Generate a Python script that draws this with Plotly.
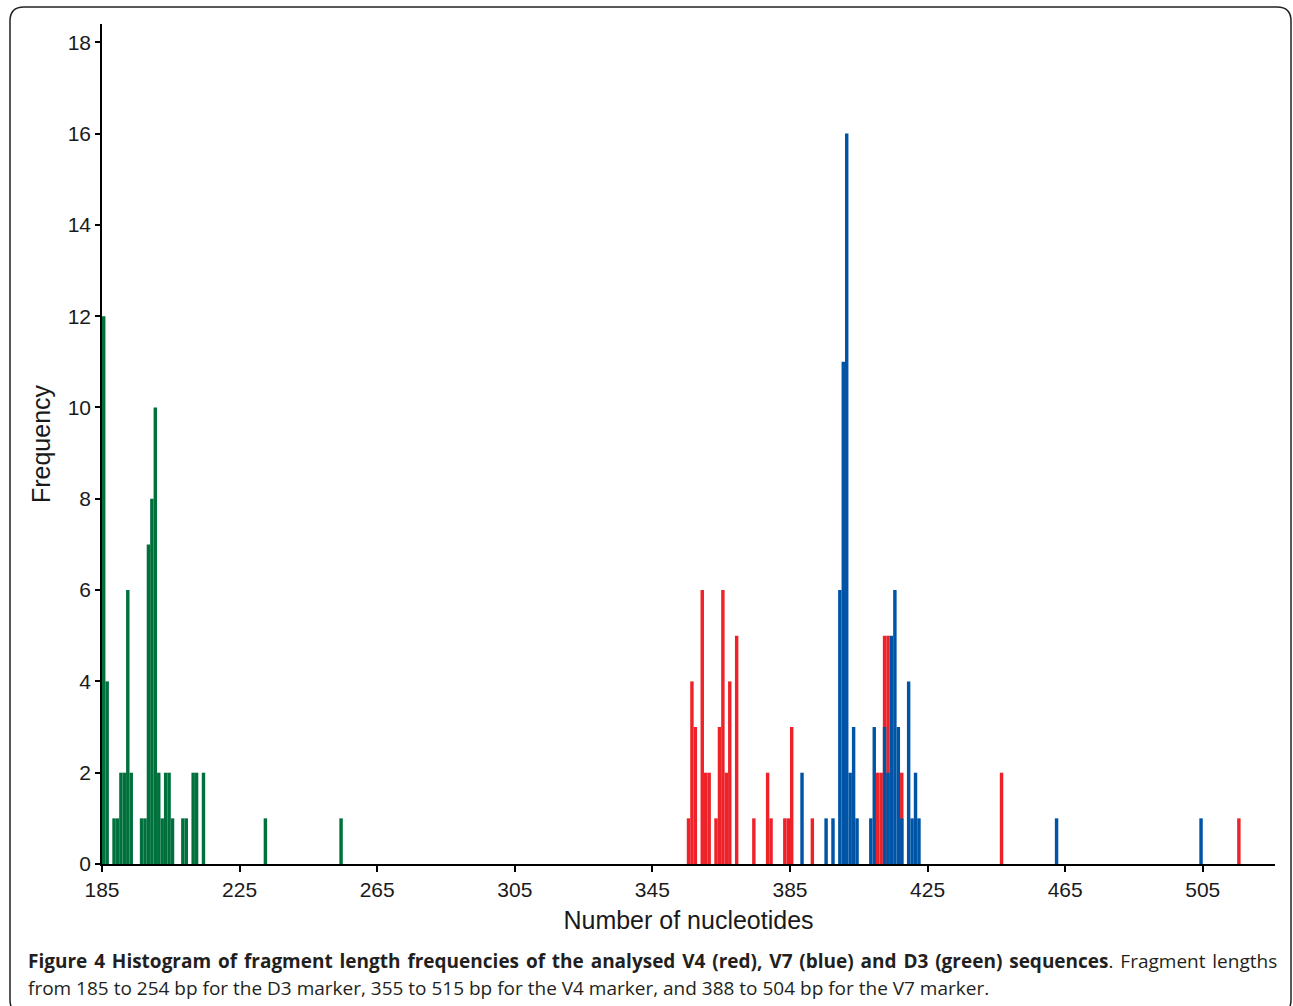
import plotly.graph_objects as go

# fragment lengths (bp) and how many sequences had that length
d3_len = [185, 186, 188, 189, 190, 191, 192, 193, 196, 197, 198, 199, 200,
          201, 202, 203, 204, 205, 208, 209, 211, 212, 214, 232, 254]
d3_cnt = [12, 4, 1, 1, 2, 2, 6, 2, 1, 1, 7, 8, 10,
          2, 1, 2, 2, 1, 1, 1, 2, 2, 2, 1, 1]

v4_len = [355, 356, 357, 359, 360, 361, 363, 364, 365, 366, 367, 369, 374,
          378, 379, 383, 384, 385, 391, 410, 411, 412, 413, 417, 446, 515]
v4_cnt = [1, 4, 3, 6, 2, 2, 1, 3, 6, 2, 4, 5, 1,
          2, 1, 1, 1, 3, 1, 2, 2, 5, 5, 2, 2, 1]

v7_len = [388, 395, 397, 399, 400, 401, 402, 403, 404, 408, 409, 412, 413,
          414, 415, 416, 417, 419, 420, 421, 422, 462, 504]
v7_cnt = [2, 1, 1, 6, 11, 16, 2, 3, 1, 1, 3, 3, 2,
          5, 6, 3, 1, 4, 1, 2, 1, 1, 1]

x_ticks = [185, 225, 265, 305, 345, 385, 425, 465, 505]
y_ticks = [0, 2, 4, 6, 8, 10, 12, 14, 16, 18]

W, H = 1293, 1006
L, R, T, B = 102, 18, 24, 142
pw, ph = W - L - R, H - T - B


# page pixel -> paper coords
def px(x):
    return (x - L) / pw


def py(y):
    return (H - B - y) / ph


fig = go.Figure()
fig.add_trace(go.Bar(x=d3_len, y=d3_cnt, width=1, offset=0, name="D3",
                     marker=dict(color="#00703c", line=dict(width=0))))
fig.add_trace(go.Bar(x=v4_len, y=v4_cnt, width=1, offset=0, name="V4",
                     marker=dict(color="#ee2229", line=dict(width=0))))
fig.add_trace(go.Bar(x=v7_len, y=v7_cnt, width=1, offset=0, name="V7",
                     marker=dict(color="#0054a6", line=dict(width=0))))

axis_font = dict(family="Liberation Sans, Arial", size=21, color="#1a1a1a")
fig.update_xaxes(range=[185, 526], tickvals=x_ticks, ticks="outside", ticklen=6,
                 tickwidth=1.5, tickcolor="black", showline=True, linecolor="black",
                 linewidth=1.5, showgrid=False, zeroline=False, tickfont=axis_font,
                 title=dict(text="Number of nucleotides", standoff=12,
                            font=dict(family="Liberation Sans, Arial", size=25, color="#1a1a1a")))
fig.update_yaxes(range=[0, 18.4], tickvals=y_ticks, ticks="outside", ticklen=5,
                 tickwidth=1.5, tickcolor="black", showline=True, linecolor="black",
                 linewidth=1.5, showgrid=False, zeroline=False, tickfont=axis_font,
                 title=dict(text="Frequency", standoff=10,
                            font=dict(family="Liberation Sans, Arial", size=25, color="#1a1a1a")))

# rounded frame around figure + caption
x0, y0, x1, y1, r = 10, 7, 1291, 1014, 14
path = (f"M {px(x0)},{py(y0 + r)} Q {px(x0)},{py(y0)} {px(x0 + r)},{py(y0)} "
        f"L {px(x1 - r)},{py(y0)} Q {px(x1)},{py(y0)} {px(x1)},{py(y0 + r)} "
        f"L {px(x1)},{py(y1 - r)} Q {px(x1)},{py(y1)} {px(x1 - r)},{py(y1)} "
        f"L {px(x0 + r)},{py(y1)} Q {px(x0)},{py(y1)} {px(x0)},{py(y1 - r)} Z")
fig.add_shape(type="path", path=path, xref="paper", yref="paper",
              line=dict(color="#222222", width=1.5), layer="above")

# first caption line is justified in the original: pad the word gaps a little
cap1 = ("<b>Figure 4 Histogram of fragment length frequencies of the analysed "
        "V4 (red), V7 (blue) and D3 (green) sequences</b>. Fragment lengths")
cap1 = cap1.replace(" ", " \u200a")
cap2 = ("from 185 to 254 bp for the D3 marker, 355 to 515 bp for the V4 "
        "marker, and 388 to 504 bp for the V7 marker.")

cap_font = dict(family="Open Sans", size=19, color="#231f20")
fig.add_annotation(xref="paper", yref="paper", x=px(26), y=py(961), xanchor="left",
                   yanchor="middle", showarrow=False, font=cap_font, text=cap1)
fig.add_annotation(xref="paper", yref="paper", x=px(26), y=py(988), xanchor="left",
                   yanchor="middle", showarrow=False, font=cap_font, text=cap2)

fig.update_layout(width=W, height=H, margin=dict(l=L, r=R, t=T, b=B),
                  barmode="overlay", showlegend=False,
                  plot_bgcolor="white", paper_bgcolor="white")

fig.write_html("out.html", config={"displayModeBar": False},
               post_script="document.body.style.margin='0';")
